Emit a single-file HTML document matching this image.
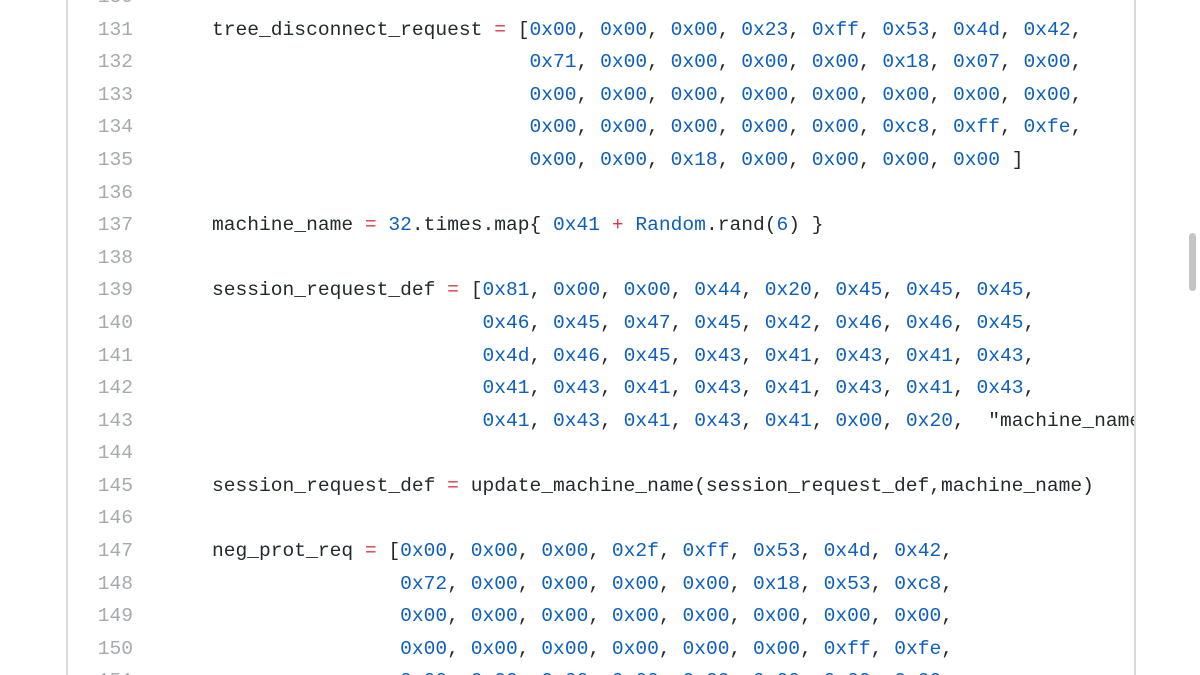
<!DOCTYPE html>
<html><head><meta charset="utf-8"><style>
html,body{margin:0;padding:0;background:#fff;width:1200px;height:675px;overflow:hidden;position:relative}
.box{position:absolute;left:66px;top:-2px;width:1066px;height:700px;border-left:2px solid #d8dadd;border-right:2px solid #d8dadd;overflow:hidden}
.ln{position:absolute;left:0;width:65px;text-align:right;color:#a6a9ad;font:19.6px "Liberation Mono",monospace;white-space:pre}
.cd{position:absolute;left:144px;color:#24292e;font:19.6px "Liberation Mono",monospace;white-space:pre}
.n{color:#0b5fc2}.o{color:#d73a49}
.sb{position:absolute;left:1189px;top:233px;width:7px;height:58px;border-radius:4px;background:#c4c4c4}
</style></head><body>
<div class="box" id="b"></div>
<div class="sb"></div>
<script>
const L={
130:'',
131:'tree_disconnect_request <o>=</o> [H(0x00, 0x00, 0x00, 0x23, 0xff, 0x53, 0x4d, 0x42,)',
132:'                           H(0x71, 0x00, 0x00, 0x00, 0x00, 0x18, 0x07, 0x00,)',
133:'                           H(0x00, 0x00, 0x00, 0x00, 0x00, 0x00, 0x00, 0x00,)',
134:'                           H(0x00, 0x00, 0x00, 0x00, 0x00, 0xc8, 0xff, 0xfe,)',
135:'                           H(0x00, 0x00, 0x18, 0x00, 0x00, 0x00, 0x00) ]',
136:'',
137:'machine_name <o>=</o> <n>32</n>.times.map{ <n>0x41</n> <o>+</o> <n>Random</n>.rand(<n>6</n>) }',
138:'',
139:'session_request_def <o>=</o> [H(0x81, 0x00, 0x00, 0x44, 0x20, 0x45, 0x45, 0x45,)',
140:'                       H(0x46, 0x45, 0x47, 0x45, 0x42, 0x46, 0x46, 0x45,)',
141:'                       H(0x4d, 0x46, 0x45, 0x43, 0x41, 0x43, 0x41, 0x43,)',
142:'                       H(0x41, 0x43, 0x41, 0x43, 0x41, 0x43, 0x41, 0x43,)',
143:'                       H(0x41, 0x43, 0x41, 0x43, 0x41, 0x00, 0x20,)  "machine_name"',
144:'',
145:'session_request_def <o>=</o> update_machine_name(session_request_def,machine_name)',
146:'',
147:'neg_prot_req <o>=</o> [H(0x00, 0x00, 0x00, 0x2f, 0xff, 0x53, 0x4d, 0x42,)',
148:'                H(0x72, 0x00, 0x00, 0x00, 0x00, 0x18, 0x53, 0xc8,)',
149:'                H(0x00, 0x00, 0x00, 0x00, 0x00, 0x00, 0x00, 0x00,)',
150:'                H(0x00, 0x00, 0x00, 0x00, 0x00, 0x00, 0xff, 0xfe,)',
151:'                H(0x00, 0x00, 0x00, 0x00, 0x00, 0x00, 0x00, 0x00,)'
};
let h='';
for(let i=130;i<=151;i++){
 const top=(13.7+(i-131)*32.58+2).toFixed(1);
 let s=L[i].replace(/H\(([^)]*)\)/g,(m,a)=>a.replace(/0x[0-9a-f]{2}/g,x=>'<n>'+x+'</n>'));
 s=s.replace(/<n>/g,'<span class="n">').replace(/<\/n>/g,'</span>').replace(/<o>/g,'<span class="o">').replace(/<\/o>/g,'</span>');
 h+=`<div class="ln" style="top:${top}px;line-height:32.58px">${i}</div><div class="cd" style="top:${top}px;line-height:32.58px">${s}</div>`;
}
document.getElementById('b').innerHTML=h;
</script>
</body></html>
